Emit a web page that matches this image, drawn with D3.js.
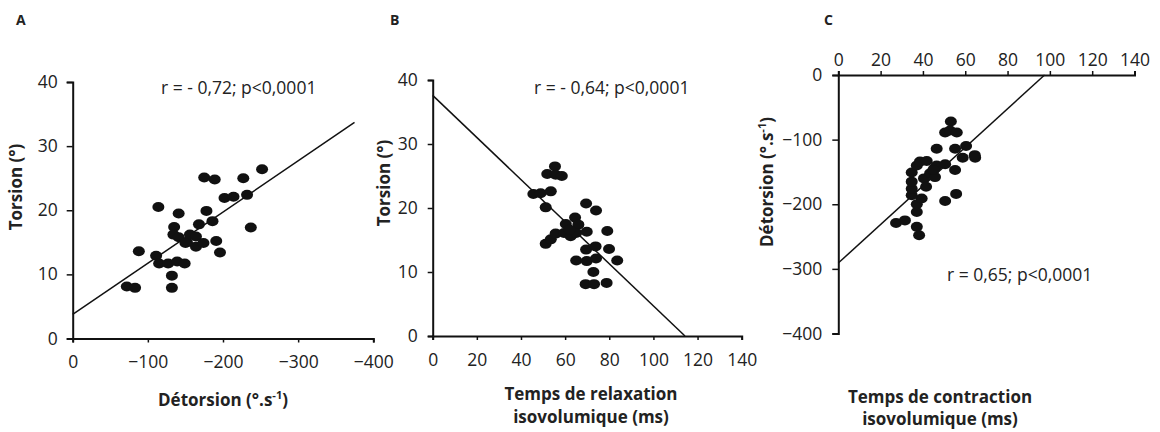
<!DOCTYPE html>
<head>
  <meta charset="utf-8">
  <script src="https://cdn.jsdelivr.net/npm/d3@7"></script>
  <style>
    body { margin: 0; background: #fff; }
    text { font-family: "Open Sans", sans-serif; fill: #222; }
    .tick text { font-size: 17.5px; }
    .title { font-weight: bold; font-size: 17px; }
    .letter { font-weight: bold; font-size: 14px; }
    .note { font-size: 17.5px; }
  </style>
</head>
<body>
  <script>
    // panel A : detorsion vs torsion
    var detA = [-72, -83, -88, -114, -111, -115, -127, -132, -132, -139, -149, -135, -134, -141, -141,
                -152, -156, -164, -164, -168, -174, -178, -186, -175, -189, -191, -196, -202, -214,
                -227, -232, -237, -252, -150];
    var torA = [8.1, 7.9, 13.6, 20.5, 12.9, 11.7, 11.7, 9.8, 7.9, 12.0, 11.7, 17.4, 16.2, 19.5, 15.8,
                15.0, 16.2, 15.9, 14.3, 17.8, 14.9, 19.9, 18.3, 25.1, 24.8, 15.2, 13.4, 21.9, 22.1,
                25.0, 22.4, 17.3, 26.4, 14.9];
    var fitA = [[0, 3.75], [-375, 33.7]];

    // panel B : temps de relaxation vs torsion
    var trvB = [45.6, 48.9, 53.5, 51.2, 51.9, 55.4, 55.7, 58.5, 51.2, 53.5, 55.7, 59.5, 60.3, 64.5,
                66, 62.5, 65, 69.8, 69.5, 74, 69.5, 73.8, 65, 69.8, 74, 72.8, 69.3, 73.1, 78.8,
                79.1, 79.9, 83.6, 62];
    var torB = [22.2, 22.3, 22.6, 20.1, 25.3, 26.5, 25.2, 25.0, 14.4, 15.1, 16.0, 16.1, 17.5, 18.5,
                17.4, 15.6, 16.1, 16.3, 20.7, 19.6, 13.5, 14.0, 11.8, 11.7, 12.1, 10.0, 8.1, 8.1, 8.3,
                16.4, 13.6, 11.8, 16.6];
    var fitB = [[0, 37.6], [114.3, 0]];

    // panel C : temps de contraction vs detorsion
    var tcvC = [27.3, 31.5, 37.1, 38.2, 37.1, 37.1, 39.4, 34.7, 34.7, 34.7, 34.7, 37.1, 38.6, 41.8,
                40.5, 41.5, 43.4, 45.3, 45.7, 46.5, 46.5, 50.5, 50.5, 50.5, 53.2, 52.8, 56, 55.2,
                55.2, 55.7, 58.8, 60.4, 64.7, 45, 64.5];
    var detC = [-229, -225, -235, -248, -212, -200, -191, -186, -176, -165, -151, -140, -134, -133,
                -160, -173, -152, -145, -158, -140, -114, -138, -195, -89, -72, -86, -89, -114,
                -147, -184, -128, -110, -128, -147, -124];
    var fitC = [[0, -291], [97.5, 0]];

    var ticks040 = [0, 10, 20, 30, 40];
    var ticks0140 = [0, 20, 40, 60, 80, 100, 120, 140];
    var ticksDet = [0, -100, -200, -300, -400];

    var svg = d3.select("body").append("svg")
      .attr("width", 1160)
      .attr("height", 432);

    function styleAxis(g) {
      g.selectAll(".domain").attr("stroke", "#111").attr("stroke-width", 2);
      g.selectAll(".tick line").attr("stroke", "#111").attr("stroke-width", 1.5);
      g.selectAll(".tick text").attr("fill", "#222");
    }

    function dots(x, y, xs, ys) {
      svg.append("g").selectAll("ellipse").data(xs)
        .enter().append("ellipse")
          .attr("cx", function(d) { return x(d); })
          .attr("cy", function(d, i) { return y(ys[i]); })
          .attr("rx", 6)
          .attr("ry", 5)
          .attr("fill", "#111");
    }

    function fit(x, y, pts) {
      svg.append("path")
        .datum(pts)
        .attr("d", d3.line().x(function(d) { return x(d[0]); }).y(function(d) { return y(d[1]); }))
        .attr("stroke", "#111")
        .attr("stroke-width", 1.5)
        .attr("fill", "none");
    }

    // ---- A ----
    var xA = d3.scaleLinear().domain([0, -400]).range([72.7, 373.3]);
    var yA = d3.scaleLinear().domain([0, 40]).range([338.5, 82]);

    svg.append("g").attr("transform", "translate(0,338.5)")
      .call(d3.axisBottom(xA).tickValues(ticksDet).tickSize(4).tickPadding(13))
      .call(styleAxis);
    svg.append("g").attr("transform", "translate(72.7,0)")
      .call(d3.axisLeft(yA).tickValues(ticks040).tickSize(6).tickPadding(9))
      .call(styleAxis);
    fit(xA, yA, fitA);
    dots(xA, yA, detA, torA);

    // ---- B ----
    var xB = d3.scaleLinear().domain([0, 140]).range([432.7, 741.7]);
    var yB = d3.scaleLinear().domain([0, 40]).range([336, 80]);

    svg.append("g").attr("transform", "translate(0,336)")
      .call(d3.axisBottom(xB).tickValues(ticks0140).tickSize(4).tickPadding(14))
      .call(styleAxis);
    svg.append("g").attr("transform", "translate(432.7,0)")
      .call(d3.axisLeft(yB).tickValues(ticks040).tickSize(5).tickPadding(10))
      .call(styleAxis);
    fit(xB, yB, fitB);
    dots(xB, yB, trvB, torB);

    // ---- C ----
    var xC = d3.scaleLinear().domain([0, 140]).range([838.3, 1134.5]);
    var yC = d3.scaleLinear().domain([0, -400]).range([75, 333.5]);

    svg.append("g").attr("transform", "translate(0,75)")
      .call(d3.axisTop(xC).tickValues(ticks0140).tickSize(4).tickPadding(5))
      .call(styleAxis);
    svg.append("g").attr("transform", "translate(838.3,0)")
      .call(d3.axisLeft(yC).tickValues(ticksDet).tickSize(6).tickPadding(10))
      .call(styleAxis);
    fit(xC, yC, fitC);
    dots(xC, yC, tcvC, detC);

    // ---- texts ----
    svg.append("text").attr("class", "letter").attr("x", 16).attr("y", 25).text("A");
    svg.append("text").attr("class", "letter").attr("x", 390).attr("y", 25).text("B");
    svg.append("text").attr("class", "letter").attr("x", 824).attr("y", 25).text("C");

    svg.append("text").attr("class", "note").attr("x", 161).attr("y", 94).text("r = - 0,72; p<0,0001");
    svg.append("text").attr("class", "note").attr("x", 534).attr("y", 94).text("r = - 0,64; p<0,0001");
    svg.append("text").attr("class", "note").attr("x", 947).attr("y", 281).text("r = 0,65; p<0,0001");

    function vtitle(x, y, parts) {
      var t = svg.append("text").attr("class", "title").attr("text-anchor", "middle")
        .attr("transform", "translate(" + x + "," + y + ") rotate(-90)");
      parts(t);
    }
    function detorsion(t) {
      t.append("tspan").text("Détorsion (°.s");
      t.append("tspan").attr("dy", -7).attr("font-size", 11).text("-1");
      t.append("tspan").attr("dy", 7).text(")");
    }

    vtitle(22, 187, function(t) { t.text("Torsion (°)"); });
    vtitle(390, 183, function(t) { t.text("Torsion (°)"); });
    vtitle(773, 182, detorsion);

    var tA = svg.append("text").attr("class", "title").attr("text-anchor", "middle")
      .attr("x", 223).attr("y", 406);
    detorsion(tA);

    svg.append("text").attr("class", "title").attr("text-anchor", "middle")
      .attr("x", 591).attr("y", 400).text("Temps de relaxation");
    svg.append("text").attr("class", "title").attr("text-anchor", "middle")
      .attr("x", 591).attr("y", 423).text("isovolumique (ms)");
    svg.append("text").attr("class", "title").attr("text-anchor", "middle")
      .attr("x", 940).attr("y", 403).text("Temps de contraction");
    svg.append("text").attr("class", "title").attr("text-anchor", "middle")
      .attr("x", 940).attr("y", 425).text("isovolumique (ms)");
  </script>
</body>
